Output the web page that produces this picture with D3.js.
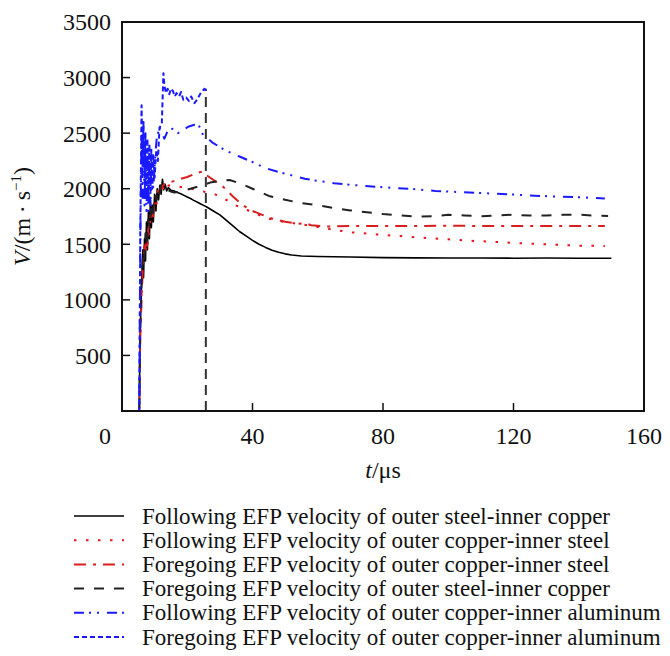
<!DOCTYPE html>
<html>
<head>
<meta charset="utf-8">
<script src="https://cdn.jsdelivr.net/npm/d3@7"></script>
<style>
  body { margin: 0; background: #fff; }
  svg text { font-family: "Liberation Serif", "Times New Roman", serif; fill: #111; }
</style>
</head>
<body>
<svg class="chart" width="670" height="656"></svg>
<script>
// tick values
var xTicks = [0, 40, 80, 120, 160];
var yTicks = [500, 1000, 1500, 2000, 2500, 3000, 3500];

// [t (us), V (m/s)]
var followSteelCu = [[0,0],[5.3,0],[5.5,600],[5.8,950],[6.1,1250],[6.4,1450],[6.6,1200],[6.9,1550],[7.2,1350],[7.5,1700],[7.8,1450],[8.1,1800],[8.4,1550],[8.7,1900],[9.0,1650],[9.3,1850],[9.6,1700],[10.0,1950],[10.4,1800],[10.8,2000],[11.2,1900],[11.6,2030],[12.0,1950],[12.4,2085],[12.8,1990],[13.2,2040],[13.7,1980],[14.2,2010],[15,1985],[16,1980],[17,1965],[18,1955],[19,1940],[20,1925],[21,1912],[22,1895],[23,1880],[24,1865],[25,1850],[26,1835],[28,1800],[30,1765],[32,1715],[34,1665],[36,1615],[38,1575],[40,1535],[42,1500],[44,1472],[46,1447],[48,1428],[50,1414],[52,1403],[55,1395],[60,1390],[70,1385],[80,1380],[90,1378],[100,1376],[110,1376],[120,1375],[130,1376],[140,1375],[150,1375]];
var followCuSteel = [[0,0],[5.3,0],[5.6,700],[6.0,1050],[6.4,1350],[6.8,1480],[7.2,1420],[7.6,1540],[8.0,1500],[8.4,1650],[8.9,1780],[9.4,1700],[10,1900],[10.5,1850],[11,1990],[11.5,1950],[12,2040],[12.5,1990],[13,2060],[14,2030],[15,2030],[17,2020],[19,2010],[21,2000],[23,1990],[25,1975],[26,1965],[28,1955],[30.5,1928],[33,1880],[36.7,1823],[40,1793],[44,1735],[47,1718],[50,1700],[55,1680],[60,1655],[65,1630],[70,1608],[78,1589],[85,1574],[92,1559],[100,1545],[108,1530],[115,1521],[122,1509],[130,1500],[139,1488],[148,1485]];
var foreCuSteel = [[0,0],[5.3,0],[5.6,650],[6.0,1000],[6.4,1300],[6.8,1420],[7.2,1500],[7.6,1450],[8.0,1620],[8.5,1720],[9.0,1800],[9.5,1760],[10,1880],[10.5,1940],[11,1920],[11.5,1980],[12,2010],[13,2040],[14,2040],[15,2060],[17,2080],[20,2105],[22,2130],[24,2150],[25,2155],[26,2120],[28,2080],[31,2018],[34,1930],[37,1853],[40,1800],[43,1765],[46,1732],[50,1703],[54,1685],[56,1690],[58,1672],[62,1660],[70,1665],[80,1665],[100,1666],[120,1665],[148,1665]];
var foreSteelCu = [[0,0],[5.3,0],[5.6,750],[6.0,1150],[6.4,1400],[6.8,1350],[7.2,1600],[7.6,1500],[8.0,1720],[8.5,1650],[9.0,1850],[9.5,1780],[10,1950],[10.5,1900],[11,2000],[11.5,1960],[12,2040],[13,2000],[14,1990],[15,1975],[16,1965],[18,1975],[21,2000],[24,2025],[27,2055],[30,2070],[33,2078],[36,2050],[40,2000],[45,1935],[50,1900],[55,1870],[60,1852],[65,1825],[70,1805],[75,1788],[80,1772],[85,1760],[90,1750],[95,1752],[100,1765],[105,1760],[110,1752],[115,1760],[120,1766],[125,1758],[130,1758],[135,1765],[140,1768],[145,1757],[149,1755]];
var followCuAl = [[0,0],[5.3,0],[5.6,1500],[6.0,2500],[6.3,1900],[6.6,2400],[6.9,1850],[7.2,2300],[7.5,1800],[7.8,2250],[8.1,1800],[8.4,2200],[8.7,1850],[9.0,2150],[9.6,2000],[10.2,2300],[10.6,2440],[11.5,2560],[12.2,2500],[13,2450],[14,2520],[15.6,2540],[17.2,2500],[18,2530],[19.3,2540],[20.5,2560],[22.2,2575],[23.4,2580],[24.9,2480],[26,2460],[28,2410],[32,2340],[36,2290],[40,2240],[44,2185],[48,2150],[52,2120],[56,2090],[60,2070],[65,2050],[70,2035],[80,2013],[90,1995],[96,1980],[108,1964],[118,1950],[129,1934],[140,1923],[148,1912]];
var foreCuAl = [[0,0],[5.3,0],[5.6,1600],[6.0,2750],[6.3,2200],[6.6,2600],[6.9,2100],[7.2,2500],[7.5,2050],[7.8,2450],[8.1,2000],[8.4,2400],[8.7,1950],[9.0,2350],[9.3,2000],[9.6,2300],[10,2100],[10.5,2350],[11,2250],[11.5,2550],[12.2,2580],[12.7,3040],[13,2930],[13.5,2860],[14,2900],[14.5,2850],[15,2900],[15.6,2880],[16.2,2830],[16.7,2860],[17.5,2830],[18.1,2870],[18.8,2800],[19.7,2820],[20.5,2790],[21.2,2830],[22.2,2770],[23,2800],[24.3,2870],[25.3,2900],[25.7,2880]];
var markerLine = [[25.7,0],[25.7,2900]];

var legendLabels = [
  "Following EFP velocity of outer steel-inner copper",
  "Following EFP velocity of outer copper-inner steel",
  "Foregoing EFP velocity of outer copper-inner steel",
  "Foregoing EFP velocity of outer steel-inner copper",
  "Following EFP velocity of outer copper-inner aluminum",
  "Foregoing EFP velocity of outer copper-inner aluminum"
];

var series = [
  { data: followSteelCu, color: "#000", dash: null, w: 1.6 },
  { data: followCuSteel, color: "#e8121b", dash: "2.5,9.5", w: 2 },
  { data: foreCuSteel, color: "#d81e1e", dash: "12,7,3,7", w: 2 },
  { data: foreSteelCu, color: "#222", dash: "10,10", w: 2 },
  { data: followCuAl, color: "#1a1aff", dash: "10,5,2,6,2,8", w: 2 },
  { data: foreCuAl, color: "#1a1aff", dash: "5,3", w: 2 }
];

var svg = d3.select("svg.chart");
var pLeft = 122, pRight = 644, pTop = 22, pBottom = 411;

var x = d3.scaleLinear().domain([0, 160]).range([pLeft, pRight]);
var y = d3.scaleLinear().domain([0, 3500]).range([pBottom, pTop]);

var line = d3.line()
    .x(function (d) { return x(d[0]); })
    .y(function (d) { return y(d[1]); });

svg.append("clipPath").attr("id", "plot")
    .append("rect")
    .attr("x", pLeft).attr("y", pTop)
    .attr("width", pRight - pLeft).attr("height", pBottom - pTop);

var plot = svg.append("g").attr("clip-path", "url(#plot)");

// vertical dashed marker
plot.append("path")
    .attr("d", line(markerLine))
    .attr("fill", "none")
    .attr("stroke", "#333")
    .attr("stroke-width", 2)
    .attr("stroke-dasharray", "10,6");

series.forEach(function (s) {
  plot.append("path")
      .attr("d", line(s.data))
      .attr("fill", "none")
      .attr("stroke", s.color)
      .attr("stroke-width", s.w)
      .attr("stroke-linejoin", "round")
      .attr("stroke-dasharray", s.dash);
});

// frame
svg.append("rect")
    .attr("x", pLeft).attr("y", pTop)
    .attr("width", pRight - pLeft).attr("height", pBottom - pTop)
    .attr("fill", "none")
    .attr("stroke", "#111")
    .attr("stroke-width", 2);

// y ticks, inward
svg.selectAll(".ytick")
    .data(yTicks.filter(function (d) { return d < 3500; }))
    .enter().append("line")
    .attr("x1", pLeft).attr("x2", pLeft + 8)
    .attr("y1", function (d) { return y(d); })
    .attr("y2", function (d) { return y(d); })
    .attr("stroke", "#111").attr("stroke-width", 1.5);

svg.selectAll(".ylab")
    .data(yTicks)
    .enter().append("text")
    .attr("x", 111)
    .attr("y", function (d) { return y(d); })
    .attr("dy", "0.35em")
    .attr("text-anchor", "end")
    .attr("font-size", 24)
    .text(function (d) { return d; });

// x ticks, inward
svg.selectAll(".xtick")
    .data(xTicks.filter(function (d) { return d > 0 && d < 160; }))
    .enter().append("line")
    .attr("x1", function (d) { return x(d); })
    .attr("x2", function (d) { return x(d); })
    .attr("y1", pBottom).attr("y2", pBottom - 8)
    .attr("stroke", "#111").attr("stroke-width", 1.5);

svg.selectAll(".xlab")
    .data(xTicks)
    .enter().append("text")
    .attr("x", function (d) { return d === 0 ? x(d) - 17 : x(d); })
    .attr("y", 444)
    .attr("text-anchor", "middle")
    .attr("font-size", 24)
    .text(function (d) { return d; });

// axis titles
var xt = svg.append("text")
    .attr("x", (pLeft + pRight) / 2)
    .attr("y", 478)
    .attr("text-anchor", "middle")
    .attr("font-size", 24);
xt.append("tspan").attr("font-style", "italic").text("t");
xt.append("tspan").text("/\u03bcs");

var yt = svg.append("text")
    .attr("transform", "translate(30," + ((pTop + pBottom) / 2) + ") rotate(-90)")
    .attr("text-anchor", "middle")
    .attr("font-size", 24);
yt.append("tspan").attr("font-style", "italic").text("V");
yt.append("tspan").text("/(m\u2009\u00b7\u2009s");
yt.append("tspan").attr("font-size", 15).attr("dy", -9).text("\u22121");
yt.append("tspan").attr("dy", 9).text(")");

// legend
var legend = svg.selectAll(".leg")
    .data(series)
    .enter().append("g")
    .attr("transform", function (d, i) { return "translate(0," + (516 + i * 24.2) + ")"; });

legend.append("line")
    .attr("x1", 74).attr("x2", 124)
    .attr("y1", 0).attr("y2", 0)
    .attr("stroke", function (d) { return d.color; })
    .attr("stroke-width", function (d) { return d.w; })
    .attr("stroke-dasharray", function (d) { return d.dash; });

legend.append("text")
    .attr("x", 142)
    .attr("y", 0)
    .attr("dy", "0.33em")
    .attr("font-size", 23)
    .text(function (d, i) { return legendLabels[i]; });
</script>
</body>
</html>
